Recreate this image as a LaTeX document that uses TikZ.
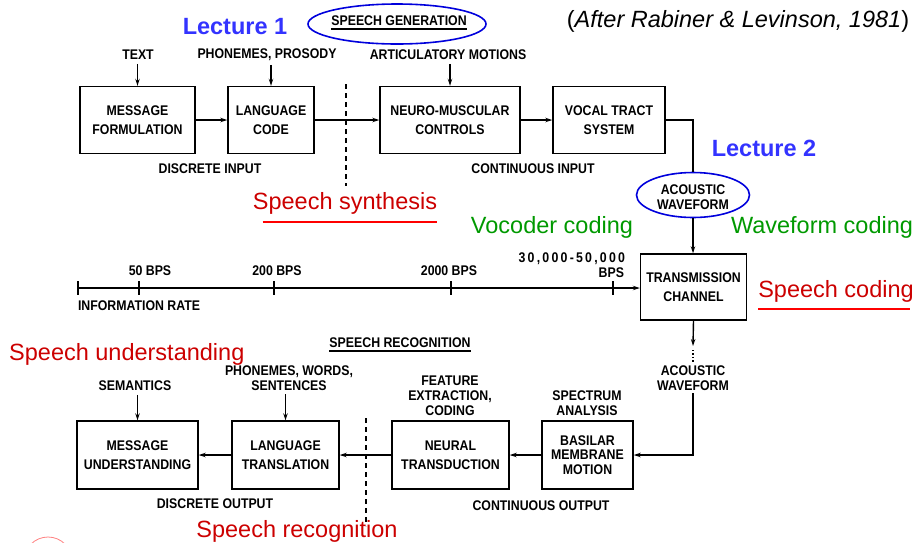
\documentclass[tikz,border=0pt]{standalone}
\usepackage{fontspec}
\setmainfont{Liberation Sans}
\newfontfamily\letterfont[FakeStretch=0.88]{Liberation Sans}
\usetikzlibrary{arrows.meta,shapes.geometric}
\definecolor{lecblue}{RGB}{51,51,255}
\definecolor{ringblue}{RGB}{0,0,220}
\definecolor{notered}{RGB}{204,0,0}
\definecolor{linered}{RGB}{255,0,0}
\definecolor{notegreen}{RGB}{0,153,0}
\newcommand\boxfont{\letterfont\fontsize{14}{18.5}\selectfont\bfseries}
\newcommand\lblfont{\letterfont\fontsize{14}{15}\selectfont\bfseries}
\newcommand\notefont{\fontsize{23.5}{26}\selectfont}
\tikzset{
	box/.style={draw, line width=1.4pt, align=center, font=\boxfont, inner sep=0pt},
	lbl/.style={align=center, font=\lblfont, inner sep=0pt, outer sep=4pt},
	note/.style={font=\notefont, inner sep=0pt},
	arr/.style={line width=1.4pt, -{Stealth[length=7pt,width=4.5pt]}},
	ring/.style={draw=ringblue, line width=1.6pt, ellipse},
	redline/.style={draw=linered, line width=1.5pt},
	cut/.style={line width=1.1pt, dash pattern=on 5pt off 4pt}
}

\begin{document}
\begin{tikzpicture}[x=1pt,y=-1pt]
	\useasboundingbox (0,0) rectangle (919,542);
	\clip (0,0) rectangle (919,542);

	% speech generation
	\node[note, font=\notefont\bfseries, lecblue] (lec1) at (235,27) {Lecture 1};
	\node[ring, minimum width=178pt, minimum height=40pt] (genring) at (397,24) {};
	\node[lbl, outer sep=0pt] (sgen) at (399,21) {SPEECH GENERATION};
	\draw[line width=1.5pt] ([yshift=-3pt]sgen.south west) -- ([yshift=-3pt]sgen.south east);
	\node[note] (cite) at (738,21) {(\textit{After Rabiner \& Levinson, 1981})};

	\node[lbl] (text) at (138,55) {TEXT};
	\node[lbl] (phon) at (267,55) {PHONEMES, PROSODY};
	\node[lbl] (artic) at (448,55) {ARTICULATORY MOTIONS};

	\node[box, minimum width=115pt, minimum height=67pt] (msgf) at (137.5,120) {MESSAGE\\FORMULATION};
	\node[box, minimum width=86pt, minimum height=67pt] (lcode) at (271,120) {LANGUAGE\\CODE};
	\node[box, minimum width=140pt, minimum height=67pt] (neuro) at (450,120) {NEURO-MUSCULAR\\CONTROLS};
	\node[box, minimum width=112pt, minimum height=67pt] (vocal) at (609,120) {VOCAL TRACT\\SYSTEM};

	\draw[arr] (text.south -| msgf.north) -- (msgf.north);
	\draw[arr] (phon.south -| lcode.north) -- (lcode.north);
	\draw[arr] (artic.south -| neuro.north) -- (neuro.north);
	\draw[arr] (msgf) -- (lcode);
	\draw[arr] (lcode) -- (neuro);
	\draw[arr] (neuro) -- (vocal);
	\draw[cut] (346,84) -- (346,186);

	\node[lbl] (dinput) at (210,169) {DISCRETE INPUT};
	\node[lbl] (cinput) at (533,169) {CONTINUOUS INPUT};

	\node[note, font=\notefont\bfseries, lecblue] (lec2) at (764,148) {Lecture 2};
	\node[ring, minimum width=113pt, minimum height=45pt] (acw1) at (693,195) {};
	\node[lbl, outer sep=0pt] (acw1txt) at (693,197) {ACOUSTIC\\WAVEFORM};
	\draw[line width=1.4pt] (vocal.east) -| (acw1.north);

	\node[note, notered] (ssyn) at (345,203) {Speech synthesis};
	\draw[redline] ([xshift=10pt,yshift=-8pt]ssyn.south west) -- ([yshift=-8pt]ssyn.south east);
	\node[note, notegreen] (vocoder) at (552,227) {Vocoder coding};
	\node[note, notegreen] (wavef) at (822,227) {Waveform coding};

	% channel and information rate
	\node[box, minimum width=106pt, minimum height=66pt] (trans) at (693.5,287) {TRANSMISSION\\CHANNEL};
	\draw[arr] (acw1.south) -- (acw1.south |- trans.north);

	\coordinate (rate0) at (78,288);
	\draw[arr] (rate0) -- (rate0 -| trans.west);
	\foreach \x in {78,139,274,451,613}
		\draw[line width=1.4pt] (\x,281) -- (\x,295);
	\node[lbl, outer sep=0pt] (bps50) at (150,271) {50 BPS};
	\node[lbl, outer sep=0pt] (bps200) at (277,271) {200 BPS};
	\node[lbl, outer sep=0pt] (bps2000) at (449,271) {2000 BPS};
	\node[lbl, outer sep=0pt, anchor=east, font=\lblfont\addfontfeature{LetterSpace=16}] (bpsmax) at (625,259) {30,000-50,000};
	\node[lbl, outer sep=0pt, anchor=east] (bpsunit) at (624,273) {BPS};
	\node[lbl, outer sep=0pt, anchor=west] (inforate) at (78,306) {INFORMATION RATE};

	\node[note, notered] (scod) at (836,291) {Speech coding};
	\draw[redline] ([yshift=-7pt]scod.south west) -- ([xshift=-4pt,yshift=-7pt]scod.south east);

	% speech recognition
	\coordinate (dots) at (693,350);
	\draw[arr] (trans.south) -- ([yshift=4pt]dots);
	\draw[dotted, line width=1.4pt] (dots) -- ++(0,12);
	\node[lbl, outer sep=3pt] (acw2) at (693,378) {ACOUSTIC\\WAVEFORM};

	\node[lbl, outer sep=0pt] (srec) at (400,343) {SPEECH RECOGNITION};
	\draw[line width=1.3pt] ([yshift=-3pt]srec.south west) -- ([yshift=-3pt]srec.south east);
	\node[note, notered, anchor=west] (sund) at (9,354) {Speech understanding};

	\node[lbl] (seman) at (135,386) {SEMANTICS};
	\node[lbl] (words) at (289,378) {PHONEMES, WORDS,\\SENTENCES};
	\node[lbl] (feat) at (450,396) {FEATURE\\EXTRACTION,\\CODING};
	\node[lbl] (spec) at (587,403) {SPECTRUM\\ANALYSIS};

	\node[box, minimum width=121pt, minimum height=68pt] (msgu) at (137.5,455) {MESSAGE\\UNDERSTANDING};
	\node[box, minimum width=107pt, minimum height=68pt] (ltrans) at (285.5,455) {LANGUAGE\\TRANSLATION};
	\node[box, minimum width=117pt, minimum height=68pt] (neural) at (450.5,455) {NEURAL\\TRANSDUCTION};
	\node[box, minimum width=91pt, minimum height=68pt, font=\letterfont\fontsize{14}{14.5}\selectfont\bfseries] (basilar) at (587.5,455) {BASILAR\\MEMBRANE\\MOTION};

	\draw[arr] (acw2.south) |- (basilar.east);
	\draw[arr] (basilar) -- (neural);
	\draw[arr] (neural) -- (ltrans);
	\draw[arr] (ltrans) -- (msgu);
	\draw[arr] (seman.south -| msgu.north) -- (msgu.north);
	\draw[arr] (words.south -| ltrans.north) -- (ltrans.north);
	\draw[cut] (366,418) -- (366,526);

	\node[lbl] (doutput) at (215,504) {DISCRETE OUTPUT};
	\node[lbl] (coutput) at (541,506) {CONTINUOUS OUTPUT};
	\node[note, notered] (srecog) at (297,531) {Speech recognition};

	\draw[red!50, line width=0.8pt] (48,561) circle[radius=24];
\end{tikzpicture}
\end{document}
